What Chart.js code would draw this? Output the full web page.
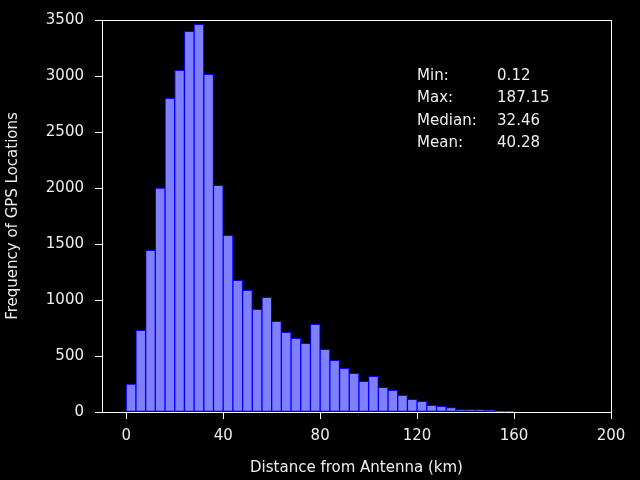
<!DOCTYPE html>
<html lang="en">
<head>
  <meta charset="UTF-8">
  <title>GPS distance histogram</title>
  <script src="https://cdn.jsdelivr.net/npm/chart.js"></script>
  <style>
    html, body { margin: 0; padding: 0; background: #000; }
    #wrap { width: 640px; height: 480px; }
  </style>
</head>
<body>
  <div id="wrap"><canvas id="histChart" width="640" height="480"></canvas></div>

  <script>
    // histogram bins, 4 km wide, starting at 0
    const binWidth = 4;
    const binStarts = [0, 4, 8, 12, 16, 20, 24, 28, 32, 36, 40, 44, 48, 52, 56, 60, 64, 68, 72, 76,
                       80, 84, 88, 92, 96, 100, 104, 108, 112, 116, 120, 124, 128, 132, 136, 140, 144, 148, 152, 156];
    const counts = [250, 729, 1444, 2000, 2801, 3051, 3399, 3462, 3015, 2024, 1577, 1176, 1086, 917, 1024, 810, 712, 658, 613, 783,
                    560, 461, 390, 345, 274, 319, 220, 194, 149, 113, 95, 60, 51, 40, 21, 21, 21, 15, 6, 6];

    const xTicks = [0, 40, 80, 120, 160, 200];
    const yTicks = [0, 500, 1000, 1500, 2000, 2500, 3000, 3500];

    const statLabels = ["Min:", "Max:", "Median:", "Mean:"];
    const statValues = ["0.12", "187.15", "32.46", "40.28"];

    const textColor = "#eeeeee";
    const fontFamily = "'DejaVu Sans', sans-serif";
    const fontSize = 15;

    // frame around the plot area plus the summary text
    const framePlugin = {
      id: "frame",
      afterDraw(chart) {
        const { ctx, chartArea, scales } = chart;
        ctx.save();
        ctx.strokeStyle = "#ffffff";
        ctx.lineWidth = 1;
        ctx.strokeRect(Math.round(chartArea.left) + 0.5, Math.round(chartArea.top) + 0.5,
                       Math.round(chartArea.right - chartArea.left), Math.round(chartArea.bottom - chartArea.top));

        ctx.fillStyle = textColor;
        ctx.font = fontSize + "px " + fontFamily;
        ctx.textBaseline = "middle";
        ctx.textAlign = "left";
        const labelX = scales.x.getPixelForValue(120);
        const valueX = scales.x.getPixelForValue(153);
        statLabels.forEach((label, i) => {
          const y = scales.y.getPixelForValue(3000 - i * 200);
          ctx.fillText(label, labelX, y);
          ctx.fillText(statValues[i], valueX, y);
        });
        ctx.restore();
      }
    };

    Chart.defaults.font.family = fontFamily;
    Chart.defaults.font.size = fontSize;
    Chart.defaults.color = textColor;

    const ctx = document.getElementById("histChart").getContext("2d");
    new Chart(ctx, {
      type: "bar",
      data: {
        datasets: [{
          data: binStarts.map((s, i) => ({ x: s + binWidth / 2, y: counts[i] })),
          backgroundColor: "#8080ff",
          borderColor: "#0000ff",
          borderWidth: 1,
          borderSkipped: false,
          barPercentage: 1,
          categoryPercentage: 1
        }]
      },
      options: {
        responsive: false,
        animation: false,
        events: [],
        layout: { padding: { left: 0, top: 20, right: 29, bottom: 0 }, autoPadding: false },
        plugins: { legend: { display: false }, tooltip: { enabled: false } },
        scales: {
          x: {
            type: "linear",
            offset: false,
            min: -10,
            max: 200,
            afterBuildTicks: s => { s.ticks = xTicks.map(v => ({ value: v })); },
            afterFit: s => { s.height = 68; },
            grid: { offset: false, drawOnChartArea: false, drawTicks: true, tickLength: 7, color: "#ffffff" },
            border: { display: true, color: "#ffffff" },
            ticks: { padding: 8, color: textColor, maxRotation: 0, callback: v => String(v) },
            title: { display: true, text: "Distance from Antenna (km)", color: textColor, padding: { top: 0, bottom: 3 } }
          },
          y: {
            min: 0,
            max: 3500,
            afterBuildTicks: s => { s.ticks = yTicks.map(v => ({ value: v })); },
            afterFit: s => { s.width = 102; },
            grid: { drawOnChartArea: false, drawTicks: true, tickLength: 7, color: "#ffffff" },
            border: { display: true, color: "#ffffff" },
            ticks: { padding: 11, color: textColor, callback: v => String(v) },
            title: { display: true, text: "Frequency of GPS Locations", color: textColor, padding: { top: 4, bottom: 0 } }
          }
        }
      },
      plugins: [framePlugin]
    });
  </script>
</body>
</html>
